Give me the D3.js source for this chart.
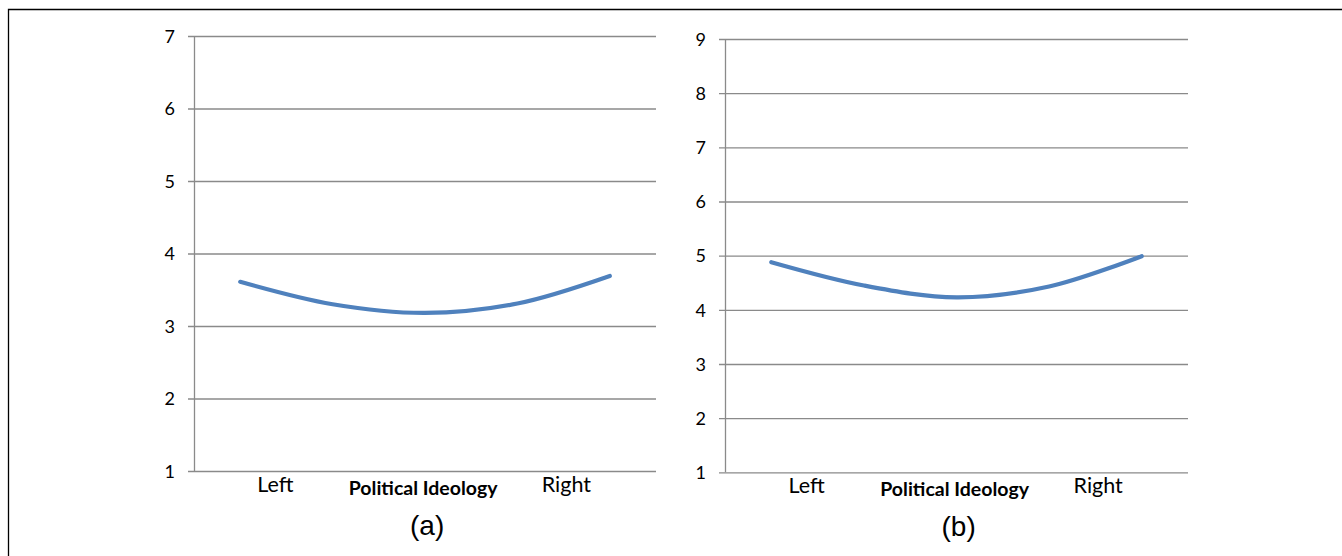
<!DOCTYPE html>
<html>
<head>
<meta charset="utf-8">
<script src="https://cdn.jsdelivr.net/npm/d3@7"></script>
<style>
  html, body { margin: 0; padding: 0; background: #fff; }
  svg { display: block; }
  .tick text { font-family: Lato, "Open Sans", sans-serif; fill: #000; font-size: 18px; }
</style>
</head>
<body>
<div id="chart"></div>
<script>
// data
const categories = [1, 2, 3, 4, 5];
const valuesA = [3.61, 3.30, 3.18, 3.31, 3.69];
const valuesB = [4.88, 4.45, 4.23, 4.43, 4.99];
const yTicksA = [1, 2, 3, 4, 5, 6, 7];
const yTicksB = [1, 2, 3, 4, 5, 6, 7, 8, 9];
const xLabels = ['Left', 'Right'];
const axisTitle = 'Political Ideology';
const panelNames = ['(a)', '(b)'];

// layout
const W = 1342, H = 556;
const xLabelAt = [1.38, 4.53];   // where Left / Right sit on the category scale
const titleAt = 2.98;

const svg = d3.select('#chart').append('svg')
    .attr('width', W)
    .attr('height', H);

// frame round the figure (only top and left show)
svg.append('path')
    .attr('d', `M8.5,${H + 5} V9.5 H${W + 5}`)
    .attr('fill', 'none')
    .attr('stroke', '#000')
    .attr('stroke-width', 1.3);

const panels = [
    { left: 194, top: 36, bottom: 471, right: 656, values: valuesA, ticks: yTicksA, name: panelNames[0] },
    { left: 725, top: 39, bottom: 472.3, right: 1188, values: valuesB, ticks: yTicksB, name: panelNames[1] }
];

panels.forEach(p => {
    const width = p.right - p.left;
    const height = p.bottom - p.top;

    const g = svg.append('g')
        .attr('transform', `translate(${p.left}, ${p.top})`);

    const x = d3.scaleLinear()
        .domain([0.5, categories.length + 0.5])
        .range([0, width]);

    const y = d3.scaleLinear()
        .domain(d3.extent(p.ticks))
        .range([height, 0]);

    // y axis with gridlines
    const yAxis = g.append('g')
        .call(d3.axisLeft(y)
            .tickValues(p.ticks)
            .tickFormat(d3.format('d'))
            .tickSizeInner(-width)
            .tickSizeOuter(0));

    yAxis.select('.domain')
        .attr('stroke', '#8a8a8a')
        .attr('stroke-width', 1.3)
        .attr('d', `M0.5,0V${height}`);

    yAxis.selectAll('.tick line')
        .attr('x1', -6)
        .attr('x2', width)
        .attr('stroke', '#8a8a8a')
        .attr('stroke-width', 1.3);

    yAxis.selectAll('.tick text')
        .attr('x', -19)
        .attr('dy', '0.35em');

    // curve
    const line = d3.line()
        .x((d, i) => x(categories[i]))
        .y(d => y(d))
        .curve(d3.curveCatmullRom);

    g.append('path')
        .datum(p.values)
        .attr('d', line)
        .attr('fill', 'none')
        .attr('stroke', '#4f81bd')
        .attr('stroke-width', 4.2)
        .attr('stroke-linecap', 'round');

    // category labels
    g.selectAll('.xlab')
        .data(xLabels)
        .join('text')
        .attr('class', 'xlab')
        .attr('x', (d, i) => x(xLabelAt[i]))
        .attr('y', height + 21)
        .attr('text-anchor', 'middle')
        .attr('font-family', 'Lato, "Open Sans", sans-serif')
        .attr('font-size', 21.5)
        .text(d => d);

    g.append('text')
        .attr('x', x(titleAt))
        .attr('y', height + 24)
        .attr('text-anchor', 'middle')
        .attr('font-family', 'Lato, "Open Sans", sans-serif')
        .attr('font-weight', 'bold')
        .attr('font-size', 19.5)
        .text(axisTitle);

    g.append('text')
        .attr('x', x(titleAt) + 4)
        .attr('y', height + 64)
        .attr('text-anchor', 'middle')
        .attr('font-family', '"Liberation Sans", Arial, sans-serif')
        .attr('font-size', 28)
        .text(p.name);
});
</script>
</body>
</html>
